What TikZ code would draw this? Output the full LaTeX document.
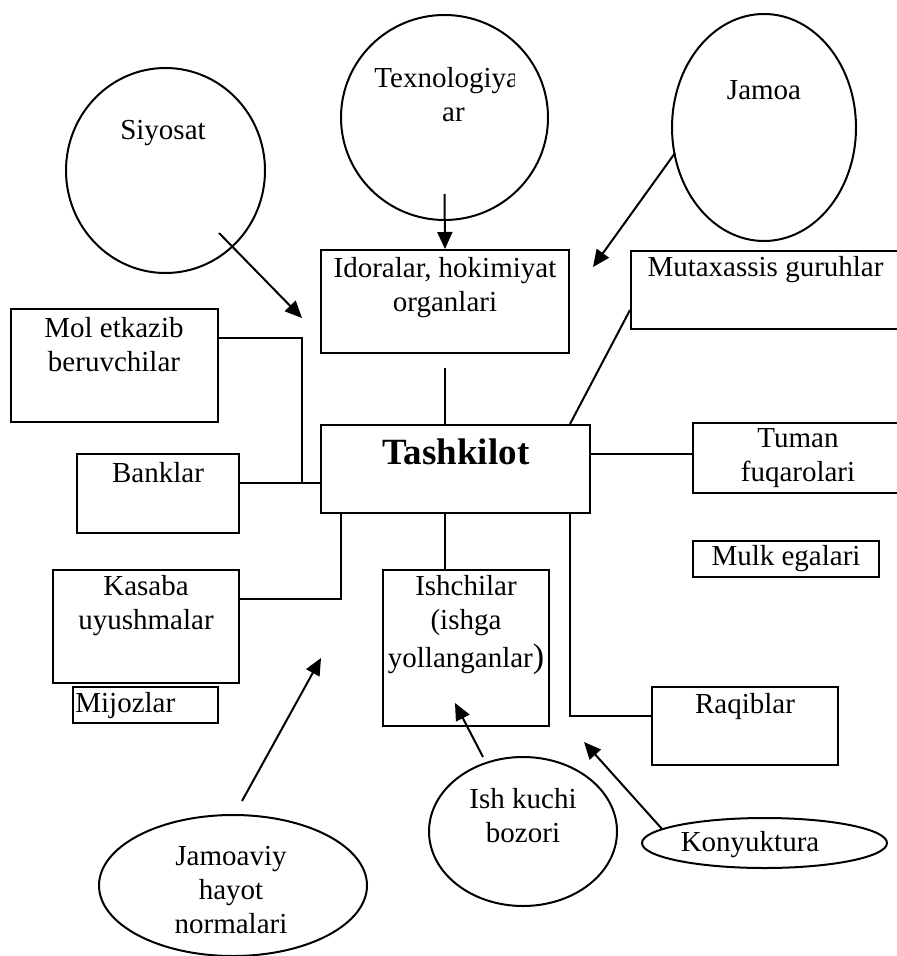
\documentclass[tikz,border=0pt]{standalone}
\usepackage{fontspec}
\setmainfont{Liberation Serif}
\usetikzlibrary{shapes.geometric,arrows.meta,calc}

\tikzset{
  box/.style={draw, rectangle, line width=1pt, inner sep=0pt},
  oval/.style={draw, ellipse, line width=1pt, inner sep=0pt},
  txt/.style={inner sep=0pt, align=center, font=\fontsize{14.5}{17}\selectfont},
  big/.style={inner sep=0pt, font=\fontsize{18.5}{22}\selectfont\bfseries},
  link/.style={line width=1pt},
  arr/.style={line width=1pt, -{Triangle[length=8.5pt,width=7.5pt]}}
}

\begin{document}
\begin{tikzpicture}[x=0.5pt, y=-0.5pt]
\useasboundingbox (0,0) rectangle (896,956);

% outer influences (circles and ovals)
\node[oval, minimum width=99.5pt, minimum height=102.5pt] (siyosat) at (165.5,170.5) {};
\node[oval, minimum width=103.5pt, minimum height=102.5pt] (texno) at (444.5,117.5) {};
\node[oval, minimum width=92pt, minimum height=113.5pt] (jamoa) at (764,127.5) {};
\node[oval, minimum width=94pt, minimum height=74.5pt] (ishk) at (523,831.5) {};
\node[oval, minimum width=122.5pt, minimum height=25pt] (konyu) at (764.5,843) {};
\node[oval, minimum width=134pt, minimum height=70.5pt] (jamov) at (233,885.5) {};

\node[txt] (siyosat-t) at (163,133) {Siyosat};
\begin{scope}
  \clip (340,40) rectangle (514,110);
  \node[txt, anchor=west] (texno-t) at (374,81) {Texnologiya};
\end{scope}
\node[txt] (texno-t2) at (453.5,115) {ar};
\node[txt] (jamoa-t) at (764,90) {Jamoa};
\node[txt] (ishk-t) at (523,816) {Ish kuchi\\bozori};
\node[txt] (konyu-t) at (750,845) {Konyuktura};
\node[txt] (jamov-t) at (231,890) {Jamoaviy\\hayot\\normalari};

% boxes
\node[box, minimum width=124pt, minimum height=51.5pt] (idora) at (445,301.5) {};
\node[box, minimum width=134.5pt, minimum height=39pt] (mutax) at (765.5,290) {};
\node[box, minimum width=134.5pt, minimum height=44pt] (tash) at (455.5,469) {};
\node[box, minimum width=103.5pt, minimum height=35pt] (tuman) at (796.5,458) {};
\node[box, minimum width=93pt, minimum height=18pt] (mulk) at (786,559) {};
\node[box, minimum width=93pt, minimum height=39pt] (raq) at (745,726) {};
\node[box, minimum width=83pt, minimum height=78pt] (ishchi) at (466,648) {};
\node[box, minimum width=103.5pt, minimum height=56.5pt] (mol) at (114.5,365.5) {};
\node[box, minimum width=81pt, minimum height=39.5pt] (bank) at (158,493.5) {};
\node[box, minimum width=93pt, minimum height=56.5pt] (kas) at (146,626.5) {};
\node[box, minimum width=72.5pt, minimum height=18pt] (mij) at (145.5,705) {};

\node[txt] (idora-t) at (445,287.5) {Idoralar, hokimiyat\\organlari};
\node[txt] (mutax-t) at (765.5,270) {Mutaxassis guruhlar};
\node[big] (tash-t) at (456,452) {Tashkilot};
\node[txt] (tuman-t) at (798,458) {Tuman\\fuqarolari};
\node[txt] (mulk-t) at (786,559) {Mulk egalari};
\node[txt] (raq-t) at (745,707) {Raqiblar};
\node[txt] (ishchi-t) at (466,625) {Ishchilar\\(ishga\\[2pt]yollanganlar{\fontsize{17}{17}\selectfont)}};
\node[txt] (mol-t) at (114,345) {Mol etkazib\\beruvchilar};
\node[txt] (bank-t) at (158,473) {Banklar};
\node[txt] (kas-t) at (146,606) {Kasaba\\uyushmalar};
\node[txt, anchor=west] (mij-t) at (75,706) {Mijozlar};

% arrows pointing towards the organisation
\draw[arr] ([yshift=13.5pt]texno.south) -- (idora.north);
\coordinate (siy-tip) at (302,318);
\draw[arr] ($(siyosat.center)+(53.5,62.5)$) -- (siy-tip);
\coordinate (jam-tip) at (593,267);
\draw[arr] ($(jamoa.center)+(-89,25.5)$) -- (jam-tip);
\coordinate (jamov-tip) at (321,658);
\draw[arr] ($(jamov.north)+(9,-13)$) -- (jamov-tip);
\draw[arr] ($(ishk.north)+(-40,1)$) -- ($(ishchi.south)+(-11,-24)$);
\coordinate (kon-tip) at (584,742);
\draw[arr] ($(konyu.center)+(-102.5,-14)$) -- (kon-tip);

% plain links to the organisation
\draw[link] ([yshift=-7pt]idora.south) -- (idora.south |- tash.north);
\draw[link] ([yshift=-10pt]mutax.west) -- ($(tash.north east)+(-21,0)$);
\draw[link] ([yshift=2pt]tuman.west) -- ([yshift=2pt]tuman.west -| tash.east);
\draw[link] ($(tash.south east)+(-21,0)$) |- ([yshift=5pt]raq.west);
\draw[link] (idora.south |- tash.south) -- (idora.south |- ishchi.north);
\coordinate (b1) at ([yshift=5.25pt]bank.east);
\draw[link] (b1) -- (b1 -| tash.west);
\draw[link] ([yshift=13.75pt]mol.east) -| ($(b1)+(62,0)$);
\draw[link] ([yshift=13.75pt]kas.east) -| ($(tash.south west)+(21,0)$);
\end{tikzpicture}
\end{document}
